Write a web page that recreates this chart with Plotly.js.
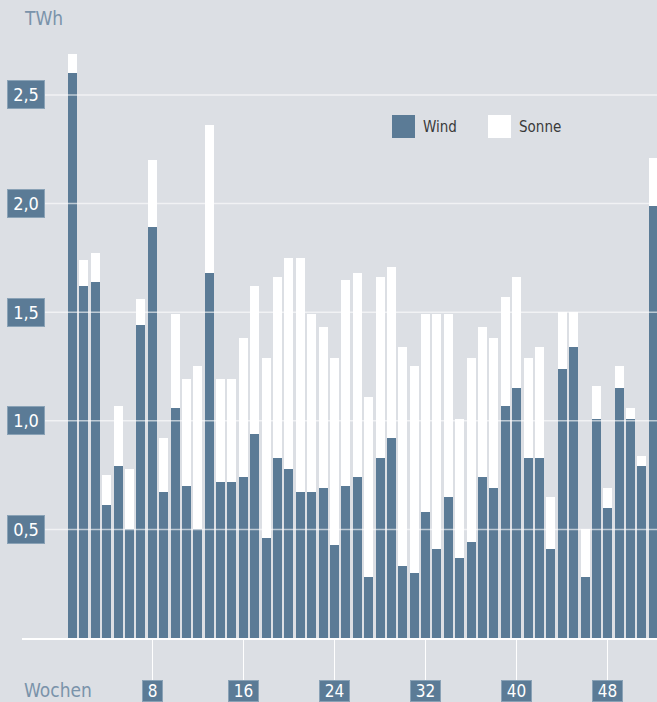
<!DOCTYPE html>
<html>
<head>
<meta charset="utf-8">
<script src="https://cdn.plot.ly/plotly-3.0.1.min.js"></script>
<style>
  html, body { margin: 0; padding: 0; background: #dcdfe4; }
  #chart { width: 657px; height: 702px; }
</style>
</head>
<body>
<div id="chart"></div>
<script>
// ---- Data ----
const weeks = [1,2,3,4,5,6,7,8,9,10,11,12,13,14,15,16,17,18,19,20,21,22,23,24,25,26,
               27,28,29,30,31,32,33,34,35,36,37,38,39,40,41,42,43,44,45,46,47,48,49,50,51,52];
const windValues = [2.60,1.62,1.64,0.61,0.79,0.50,1.44,1.89,0.67,1.06,0.70,0.50,1.68,
                    0.72,0.72,0.74,0.94,0.46,0.83,0.78,0.67,0.67,0.69,0.43,0.70,0.74,
                    0.28,0.83,0.92,0.33,0.30,0.58,0.41,0.65,0.37,0.44,0.74,0.69,1.07,
                    1.15,0.83,0.83,0.41,1.24,1.34,0.28,1.01,0.60,1.15,1.01,0.79,1.99];
const totalValues = [2.69,1.74,1.77,0.75,1.07,0.78,1.56,2.20,0.92,1.49,1.19,1.25,2.36,
                     1.19,1.19,1.38,1.62,1.29,1.66,1.75,1.75,1.49,1.43,1.29,1.65,1.68,
                     1.11,1.66,1.71,1.34,1.25,1.49,1.49,1.49,1.01,1.29,1.43,1.38,1.57,
                     1.66,1.29,1.34,0.65,1.50,1.50,0.50,1.16,0.69,1.25,1.06,0.84,2.21];
const sonneValues = totalValues.map((t, i) => +(t - windValues[i]).toFixed(2));
const seriesNames = ['Wind', 'Sonne'];
const yTickVals = [0.5, 1.0, 1.5, 2.0, 2.5];
const yTickText = ['0,5', '1,0', '1,5', '2,0', '2,5'];
const xTickVals = [8, 16, 24, 32, 40, 48];
const xTickText = ['8', '16', '24', '32', '40', '48'];
const yUnit = 'TWh';
const xName = 'Wochen';

// ---- Style ----
const W = 657, H = 702;
const M = {l: 22, r: 0, t: 8, b: 64};
const PW = W - M.l - M.r, PH = H - M.t - M.b;
const windColor = '#5b7b96';
const sonneColor = '#ffffff';
const bg = '#dcdfe4';
const boxColor = '#5b7b96';
const boxBorder = '#8aa2b6';
const FONT = '"DejaVu Sans Condensed", "Liberation Sans Narrow", "Open Sans", sans-serif';
const px = x => (x - M.l) / PW;          // pixel -> paper x
const py = y => (H - M.b - y) / PH;      // pixel -> paper y

const traces = [
  {type: 'bar', x: weeks, y: windValues, name: seriesNames[0],
   marker: {color: windColor, line: {width: 0}}, hoverinfo: 'x+y'},
  {type: 'bar', x: weeks, y: sonneValues, name: seriesNames[1],
   marker: {color: sonneColor, line: {width: 0}}, hoverinfo: 'x+y'}
];

const shapes = [];
const annotations = [];

// grid lines drawn above the bars
yTickVals.forEach(v => {
  shapes.push({type: 'line', xref: 'paper', yref: 'y', x0: 0, x1: 1, y0: v, y1: v,
               line: {color: 'rgba(255,255,255,0.6)', width: 1.5}, layer: 'above'});
});

// y tick label boxes
yTickVals.forEach((v, i) => {
  annotations.push({xref: 'paper', yref: 'y', x: px(7), y: v, xanchor: 'left', yanchor: 'middle',
    text: yTickText[i], showarrow: false, bgcolor: boxColor, bordercolor: boxBorder,
    borderwidth: 1, borderpad: 3, width: 30,
    font: {family: FONT, size: 18, color: '#ffffff'}});
});

// x tick label boxes
xTickVals.forEach((v, i) => {
  annotations.push({xref: 'x', yref: 'paper', x: v, y: py(680), xanchor: 'center', yanchor: 'top',
    text: xTickText[i], showarrow: false, bgcolor: boxColor, bordercolor: boxBorder,
    borderwidth: 1, borderpad: 0, width: xTickText[i].length * 10 + 9, height: 20,
    font: {family: FONT, size: 17, color: '#ffffff'}});
});

// axis names
annotations.push({xref: 'paper', yref: 'paper', x: px(22), y: py(18), xanchor: 'left', yanchor: 'middle',
  text: yUnit, showarrow: false, font: {family: FONT, size: 19, color: '#7a93aa'}});
annotations.push({xref: 'paper', yref: 'paper', x: px(22), y: py(690), xanchor: 'left', yanchor: 'middle',
  text: xName, showarrow: false, font: {family: FONT, size: 19, color: '#7a93aa'}});

// legend
const legendItems = [
  {x: 392, color: windColor, name: seriesNames[0]},
  {x: 488, color: sonneColor, name: seriesNames[1]}
];
legendItems.forEach(it => {
  shapes.push({type: 'rect', xref: 'paper', yref: 'paper', x0: px(it.x), x1: px(it.x + 23),
    y0: py(115), y1: py(138), fillcolor: it.color, line: {width: 0}});
  annotations.push({xref: 'paper', yref: 'paper', x: px(it.x + 29), y: py(127), xanchor: 'left',
    yanchor: 'middle', text: it.name, showarrow: false,
    font: {family: FONT, size: 15, color: '#3a3a3a'}});
});

const layout = {
  width: W, height: H,
  margin: M,
  paper_bgcolor: bg, plot_bgcolor: bg,
  barmode: 'stack', bargap: 0.21,
  showlegend: false,
  xaxis: {range: [-3.434, 52.32], showgrid: false, zeroline: false,
          showline: true, linecolor: '#ffffff', linewidth: 1.5,
          tickvals: xTickVals, ticks: 'outside', ticklen: 42, tickcolor: '#ffffff', tickwidth: 1,
          showticklabels: false, fixedrange: true},
  yaxis: {range: [0, 2.9], showgrid: false, zeroline: false, showline: false,
          showticklabels: false, ticks: '', fixedrange: true},
  shapes: shapes,
  annotations: annotations
};

Plotly.newPlot('chart', traces, layout, {displayModeBar: false, staticPlot: true});
</script>
</body>
</html>
